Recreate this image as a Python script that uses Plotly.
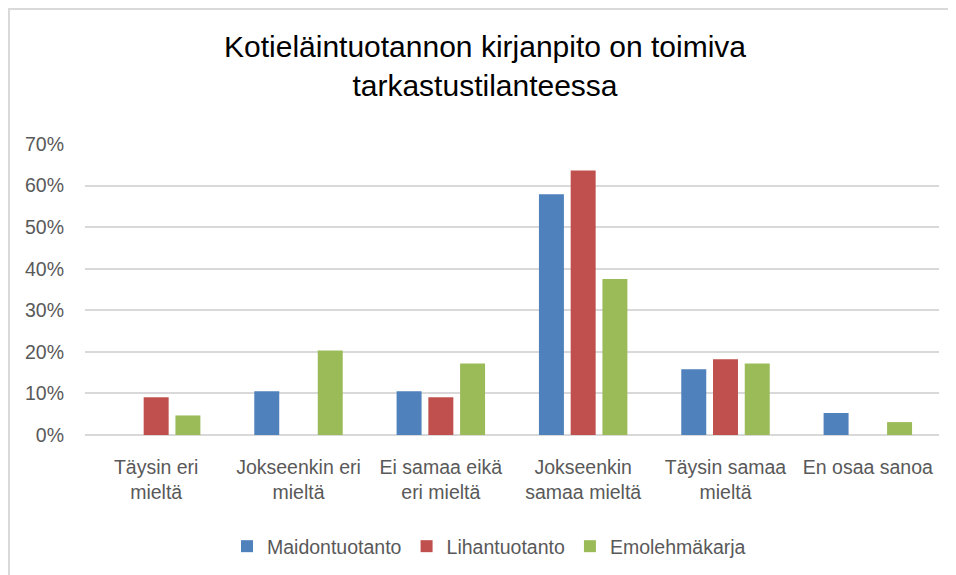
import plotly.graph_objects as go

categories = ["Täysin eri<br>mieltä", "Jokseenkin eri<br>mieltä", "Ei samaa eikä<br>eri mieltä",
              "Jokseenkin<br>samaa mieltä", "Täysin samaa<br>mieltä", "En osaa sanoa"]
maidontuotanto = [0.0, 10.5, 10.5, 57.9, 15.8, 5.3]
lihantuotanto = [9.1, 0.0, 9.1, 63.6, 18.2, 0.0]
emolehmakarja = [4.7, 20.3, 17.2, 37.5, 17.2, 3.1]
series_names = ["Maidontuotanto", "Lihantuotanto", "Emolehmäkarja"]
colors = ["#4F81BD", "#C0504D", "#9BBB59"]
y_ticks = [0, 10, 20, 30, 40, 50, 60, 70]
y_tick_labels = ["0%", "10%", "20%", "30%", "40%", "50%", "60%", "70%"]

W, H = 956, 575
# page body has ~8px margin, so figure coords = screen coords - 8
L, R, T, B = 77, 25, 136, 148
pw, ph = W - L - R, H - T - B

small_font = dict(family="Liberation Sans, Arial", size=19.5, color="#595959")

fig = go.Figure()
for name, vals, col in zip(series_names, [maidontuotanto, lihantuotanto, emolehmakarja], colors):
    fig.add_trace(go.Bar(x=categories, y=vals, name=name, marker=dict(color=col, line=dict(width=0))))

def px_x(p):
    return (p - L) / pw

def px_y(p):
    return (H - B - p) / ph

fig.update_layout(
    width=W, height=H,
    margin=dict(l=L, r=R, t=T, b=B, autoexpand=False),
    paper_bgcolor="white", plot_bgcolor="white",
    barmode="group", bargap=0.331, bargroupgap=0.213,
    title=dict(text="Kotieläintuotannon kirjanpito on toimiva<br>tarkastustilanteessa",
               x=477 / W, xanchor="center", xref="container",
               y=1 - 49 / H, yanchor="top", yref="container",
               font=dict(family="Liberation Sans, Arial", size=30, color="#000000")),
    font=small_font,
    showlegend=True,
    legend=dict(orientation="h", x=px_x(481), xanchor="center", y=px_y(519), yanchor="top",
                font=small_font, itemwidth=30, traceorder="normal"),
    xaxis=dict(showgrid=False, showline=False, ticks="", tickfont=small_font, tickangle=0,
               automargin=False, ticklabelstandoff=18),
    yaxis=dict(range=[0, 70], tickvals=y_ticks, ticktext=y_tick_labels, showgrid=True,
               gridcolor="#D9D9D9", gridwidth=1.5, zeroline=True, zerolinecolor="#D9D9D9",
               zerolinewidth=1.5, showline=False, ticks="", tickfont=small_font,
               automargin=False, ticklabelstandoff=20),
    shapes=[
        dict(type="line", xref="paper", yref="paper", x0=px_x(1), x1=px_x(1), y0=px_y(0), y1=px_y(580),
             line=dict(color="#D9D9D9", width=2)),
        dict(type="line", xref="paper", yref="paper", x0=px_x(0), x1=px_x(960), y0=px_y(1), y1=px_y(1),
             line=dict(color="#D9D9D9", width=2)),
    ],
)

fig.write_html("out.html")
